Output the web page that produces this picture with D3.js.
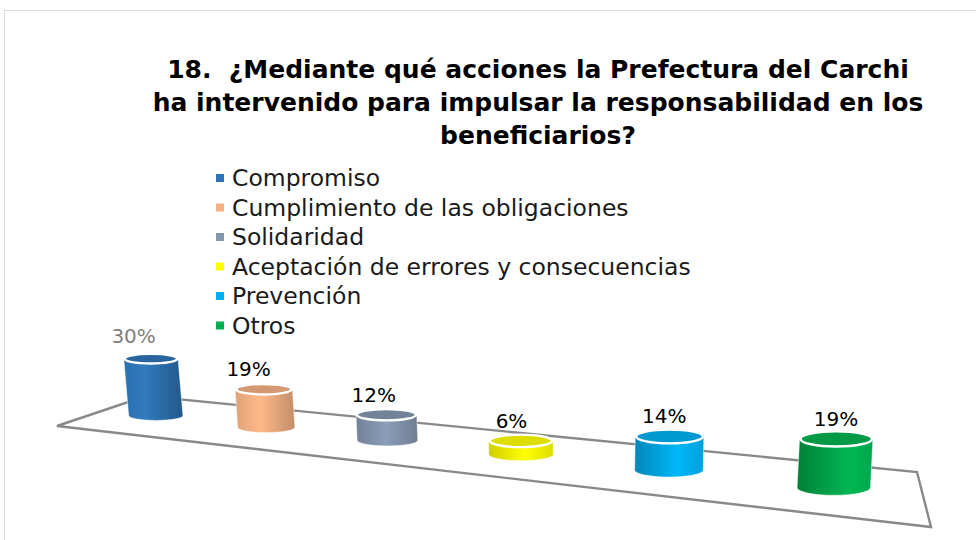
<!DOCTYPE html>
<html>
<head>
<meta charset="utf-8">
<script src="https://cdn.jsdelivr.net/npm/d3@7"></script>
<style>
  body { margin: 0; background: #fff; }
  text { font-family: "DejaVu Sans", sans-serif; }
</style>
</head>
<body>
<div class="chart"></div>
<script>
// datos del grafico
var categorias = ["Compromiso", "Cumplimiento de las obligaciones", "Solidaridad",
                  "Aceptación de errores y consecuencias", "Prevención", "Otros"];
var porcentajes = [30, 19, 12, 6, 14, 19];
var colores = ["#2e75b6", "#f4b183", "#8497b0", "#ffff00", "#00b0f0", "#00b050"];
var titulo = ["18.  ¿Mediante qué acciones la Prefectura del Carchi",
              "ha intervenido para impulsar la responsabilidad en los",
              "beneficiarios?"];

var width = 976, height = 540;

var svg = d3.select(".chart")
  .append("svg")
    .attr("width", width)
    .attr("height", height);

var defs = svg.append("defs");

// marco del area del grafico
svg.append("rect")
    .attr("x", 4.5).attr("y", 10.5)
    .attr("width", width + 10).attr("height", height + 10)
    .attr("fill", "none")
    .attr("stroke", "#d9d9d9");

// titulo
svg.append("g").selectAll("text")
  .data(titulo)
  .enter().append("text")
    .attr("x", 538)
    .attr("y", function(d, i) { return 78 + i * 33; })
    .attr("text-anchor", "middle")
    .style("white-space", "pre")
    .style("font-weight", "bold")
    .style("font-size", "25px")
    .text(function(d) { return d; });

// leyenda
var legend = svg.append("g").selectAll("g")
  .data(categorias)
  .enter().append("g")
    .attr("transform", function(d, i) { return "translate(216," + (178 + i * 29.5) + ")"; });

legend.append("rect")
    .attr("y", -4).attr("width", 8).attr("height", 8)
    .attr("fill", function(d, i) { return colores[i]; });

legend.append("text")
    .attr("x", 16).attr("dy", "0.35em")
    .style("font-size", "23.5px")
    .attr("fill", "#1a1a1a")
    .text(function(d) { return d; });

// piso en perspectiva: homografia del cuadrado unidad al cuadrilatero
var A = [57, 426], D = [931, 527], C = [917, 472], B = [146, 396];
var H = (function() {
  var dx1 = D[0] - C[0], dy1 = D[1] - C[1];
  var dx2 = B[0] - C[0], dy2 = B[1] - C[1];
  var dx3 = A[0] - D[0] + C[0] - B[0], dy3 = A[1] - D[1] + C[1] - B[1];
  var den = dx1 * dy2 - dx2 * dy1;
  var g = (dx3 * dy2 - dx2 * dy3) / den;
  var h = (dx1 * dy3 - dx3 * dy1) / den;
  return {
    a: D[0] - A[0] + g * D[0], b: B[0] - A[0] + h * B[0], c: A[0],
    d: D[1] - A[1] + g * D[1], e: B[1] - A[1] + h * B[1], f: A[1],
    g: g, h: h
  };
})();

function proj(u, v) {
  var w = H.g * u + H.h * v + 1;
  return { x: (H.a * u + H.b * v + H.c) / w, y: (H.d * u + H.e * v + H.f) / w, s: Math.pow(1 / w, 1.2) };
}

var floor = [[0, 0], [1, 0], [1, 1], [0, 1]].map(function(p) { var q = proj(p[0], p[1]); return [q.x, q.y]; });
svg.append("path")
    .attr("d", d3.line()(floor) + "Z")
    .attr("fill", "none")
    .attr("stroke", "#898989")
    .attr("stroke-width", 2.4);

// escalas
var x = d3.scaleBand()
    .domain(categorias)
    .range([0, 1]);

var y = d3.scaleLinear()
    .domain([0, 30])
    .range([0, 60]);

var vp = [587, 5400]; // punto de fuga vertical

function shade(c, k) {
  var col = d3.rgb(c);
  return k >= 1 ? col.brighter(k - 1).formatHex() : col.darker((1 - k) * 2).formatHex();
}

var cil = categorias.map(function(c, i) {
  var u = x(c) + x.bandwidth() / 2;
  var base = proj(u, 0.5);
  var h = y(porcentajes[i]) * base.s;
  var dx = base.x - vp[0], dy = base.y - vp[1], L = Math.sqrt(dx * dx + dy * dy);
  var lab = proj(u, 0.3);
  return {
    i: i, color: colores[i], value: porcentajes[i],
    bx: base.x, by: base.y,
    tx: base.x + dx / L * h, ty: base.y + dy / L * h,
    rx: 28.5 * base.s, ry: 5.2 * Math.pow(base.s, 1.5),
    lx: lab.x + dx / L * h
  };
});

// degradados del cuerpo
cil.forEach(function(d) {
  var t = d.i / 5;
  var grad = defs.append("linearGradient")
      .attr("id", "g" + d.i)
      .attr("x1", "0").attr("x2", "1").attr("y1", "0").attr("y2", "0");
  grad.append("stop").attr("offset", 0).attr("stop-color", shade(d.color, 0.95 - 0.4 * t));
  grad.append("stop").attr("offset", 0.35 + 0.35 * t).attr("stop-color", shade(d.color, 1.12));
  grad.append("stop").attr("offset", 1).attr("stop-color", shade(d.color, 0.62 + 0.3 * t));
});

var g = svg.append("g").selectAll("g")
  .data(cil)
  .enter().append("g");

g.append("path")
    .attr("d", function(d) {
      return "M" + (d.tx - d.rx) + "," + d.ty +
        "L" + (d.bx - d.rx) + "," + d.by +
        "A" + d.rx + "," + d.ry + " 0 0 0 " + (d.bx + d.rx) + "," + d.by +
        "L" + (d.tx + d.rx) + "," + d.ty +
        "A" + d.rx + "," + d.ry + " 0 0 1 " + (d.tx - d.rx) + "," + d.ty + "Z";
    })
    .attr("fill", function(d) { return "url(#g" + d.i + ")"; })
    .attr("stroke", "#ffffff")
    .attr("stroke-opacity", 0.5)
    .attr("stroke-width", 1);

g.append("ellipse")
    .attr("cx", function(d) { return d.tx; })
    .attr("cy", function(d) { return d.ty; })
    .attr("rx", function(d) { return d.rx - 1; })
    .attr("ry", function(d) { return d.ry; })
    .attr("fill", function(d) { return shade(d.color, 0.8); })
    .attr("stroke", "#ffffff")
    .attr("stroke-width", 2.4);

// etiquetas de datos
g.append("text")
    .attr("x", function(d) { return d.lx; })
    .attr("y", function(d) { return d.ty - (d.i === 0 ? 16 : 13); })
    .attr("text-anchor", "middle")
    .style("font-size", "20px")
    .attr("fill", function(d) { return d.i === 0 ? "#808080" : "#000000"; })
    .text(function(d) { return d.value + "%"; });
</script>
</body>
</html>
